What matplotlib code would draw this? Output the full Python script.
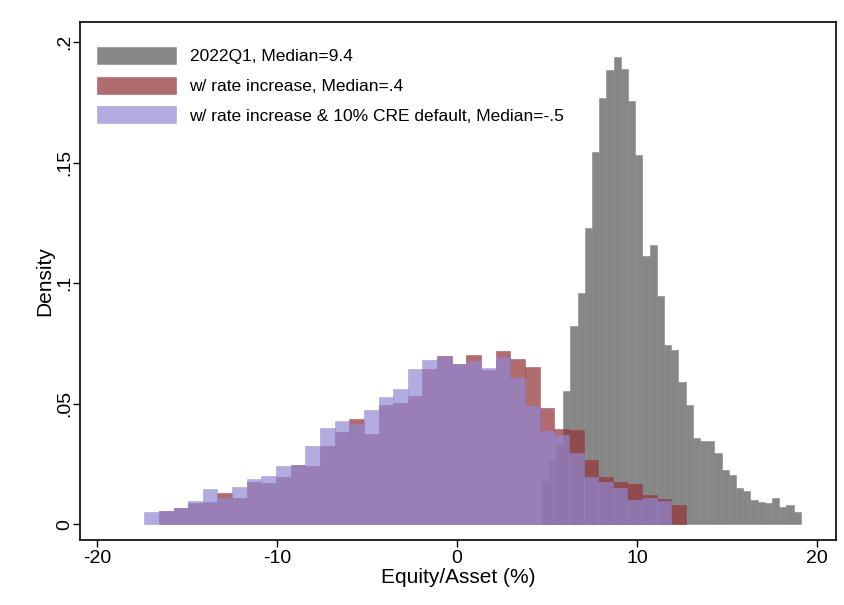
import matplotlib
matplotlib.use("Agg")
import matplotlib.pyplot as plt
import numpy as np

plt.rcParams['font.family'] = ['Liberation Sans', 'DejaVu Sans']

# Histogram densities (Equity/Asset, %)
# 2022Q1: 36 bins of width 0.4 starting at 4.7
base_start = 4.70
base_width = 0.40
base_density = [0.0180, 0.0260, 0.0330,
                0.0552, 0.0823, 0.0957, 0.1227, 0.1545, 0.1766, 0.1884, 0.1939,
                0.1887, 0.1755, 0.1531, 0.1112, 0.1158, 0.0947, 0.0743, 0.0722,
                0.0590, 0.0494, 0.0358, 0.0344, 0.0344, 0.0297, 0.0224, 0.0203,
                0.0148, 0.0138, 0.0100, 0.0090, 0.0086, 0.0107, 0.0072, 0.0079,
                0.0051]

# With rate increase: 36 bins
rate_start = -16.557
rate_width = 0.8135
rate_density = [0.0055, 0.0065, 0.0086, 0.0090, 0.0127, 0.0108, 0.0174, 0.0170,
                0.0194, 0.0246, 0.0241, 0.0324, 0.0380, 0.0436, 0.0372, 0.0494,
                0.0501, 0.0531, 0.0643, 0.0698, 0.0664, 0.0700, 0.0639, 0.0719,
                0.0685, 0.0652, 0.0483, 0.0393, 0.0390, 0.0266, 0.0196, 0.0176,
                0.0166, 0.0120, 0.0105, 0.0079]

# With rate increase and 10% CRE default: 36 bins
cre_start = -17.37
cre_width = 0.8135
cre_density = [0.0050, 0.0055, 0.0065, 0.0097, 0.0145, 0.0109, 0.0155, 0.0188,
               0.0198, 0.0242, 0.0246, 0.0324, 0.0397, 0.0426, 0.0416, 0.0472,
               0.0526, 0.0559, 0.0642, 0.0680, 0.0692, 0.0664, 0.0676, 0.0649,
               0.0692, 0.0605, 0.0490, 0.0387, 0.0369, 0.0293, 0.0196, 0.0176,
               0.0148, 0.0100, 0.0107, 0.0095]

labels = ["2022Q1, Median=9.4",
          "w/ rate increase, Median=.4",
          "w/ rate increase & 10% CRE default, Median=-.5"]

xticks = [-20, -10, 0, 10, 20]
xtick_labels = ["-20", "-10", "0", "10", "20"]
yticks = [0, 0.05, 0.1, 0.15, 0.2]
ytick_labels = ["0", ".05", ".1", ".15", ".2"]

gray = (0.53, 0.53, 0.53)
red = (0.575, 0.205, 0.215)
purple = (0.565, 0.533, 0.827)

fig = plt.figure(figsize=(8.45, 6.05), dpi=100)
ax = fig.add_axes([80 / 845, 65 / 605, 756 / 845, 518 / 605])


def hist_bars(start, width, dens, color, alpha, label):
    lefts = start + width * np.arange(len(dens))
    ax.bar(lefts, dens, width=width, align='edge', color=color, alpha=alpha,
           edgecolor=color, linewidth=0.4, label=label, zorder=2)


hist_bars(base_start, base_width, base_density, gray, 1.0, labels[0])
hist_bars(rate_start, rate_width, rate_density, red, 0.72, labels[1])
hist_bars(cre_start, cre_width, cre_density, purple, 0.70, labels[2])

ax.set_xlim(-20.94, 21.06)
ax.set_ylim(-0.0066, 0.2083)

ax.set_xticks(xticks)
ax.set_xticklabels(xtick_labels, fontsize=14)
ax.set_yticks(yticks)
ax.set_yticklabels(ytick_labels, fontsize=14, rotation=90, va='center')
ax.tick_params(direction='out', length=5, width=1, color='black')
ax.tick_params(axis='x', pad=2)
ax.tick_params(axis='y', pad=0)
ax.set_xlabel("Equity/Asset (%)", fontsize=15, labelpad=1)
ax.set_ylabel("Density", fontsize=15, labelpad=1)

for s in ax.spines.values():
    s.set_color('black')
    s.set_linewidth(1.2)

leg = ax.legend(loc='upper left', bbox_to_anchor=(0.022, 0.952), frameon=False,
                fontsize=12.5, handlelength=4.6, handleheight=1.15,
                handletextpad=0.75, labelspacing=0.7, borderpad=0,
                borderaxespad=0)

fig.savefig("out.png", dpi=100, facecolor='white')
